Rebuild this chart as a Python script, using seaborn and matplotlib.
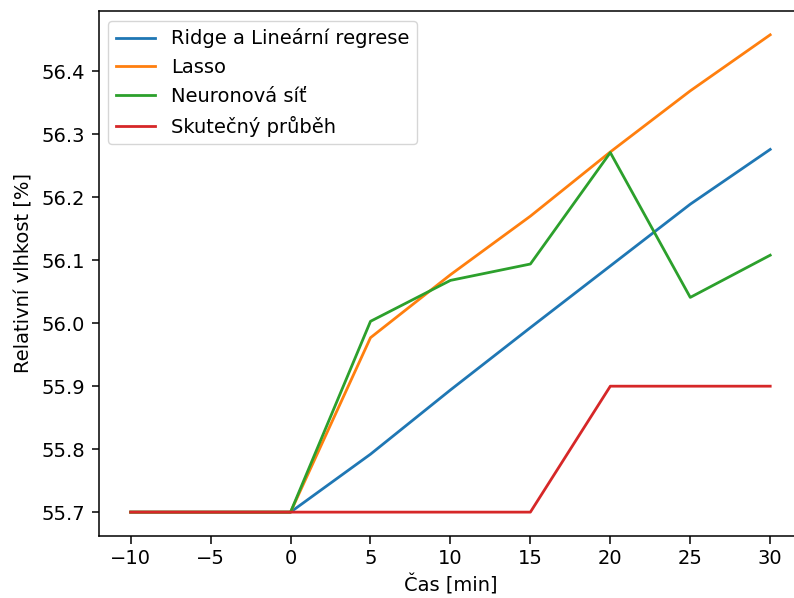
import matplotlib
matplotlib.use("Agg")
import matplotlib.pyplot as plt
import seaborn as sns
import pandas as pd

# Time axis [min] and predicted / measured relative humidity [%]
cas = [-10, -5, 0, 5, 10, 15, 20, 25, 30]
ridge = [55.7, 55.7, 55.7, 55.792, 55.894, 55.993, 56.091, 56.189, 56.276]
lasso = [55.7, 55.7, 55.7, 55.977, 56.077, 56.170, 56.272, 56.369, 56.458]
neuronova = [55.7, 55.7, 55.7, 56.003, 56.068, 56.094, 56.271, 56.041, 56.108]
skutecny = [55.7, 55.7, 55.7, 55.7, 55.7, 55.7, 55.9, 55.9, 55.9]

nazvy = ["Ridge a Lineární regrese", "Lasso", "Neuronová síť", "Skutečný průběh"]
serie = [ridge, lasso, neuronova, skutecny]

df = pd.DataFrame({
    "Čas": cas * len(nazvy),
    "Vlhkost": [v for s in serie for v in s],
    "Model": [n for n, s in zip(nazvy, serie) for _ in s],
})

plt.rcParams["font.size"] = 14.0
plt.rcParams["font.family"] = ["DejaVu Sans"]

fig = plt.figure(figsize=(7.94, 5.98), dpi=100)
ax = fig.add_axes([0.1243, 0.1037, 0.886, 0.878])

sns.lineplot(data=df, x="Čas", y="Vlhkost", hue="Model", hue_order=nazvy,
             palette=sns.color_palette("tab10", 4), linewidth=2.0, ax=ax)

ax.set_xticks([-10, -5, 0, 5, 10, 15, 20, 25, 30])
ax.set_yticks([55.7, 55.8, 55.9, 56.0, 56.1, 56.2, 56.3, 56.4])
ax.set_xlabel("Čas [min]", labelpad=4.5)
ax.set_ylabel("Relativní vlhkost [%]", labelpad=5.5)
for s in ax.spines.values():
    s.set_linewidth(1.1)
ax.tick_params(width=1.1, length=5.4, pad=4.3)
ax.legend(loc="upper left", frameon=True, framealpha=0.8, edgecolor="#cccccc",
          handlelength=2.0)

fig.savefig("out.png", dpi=100)
